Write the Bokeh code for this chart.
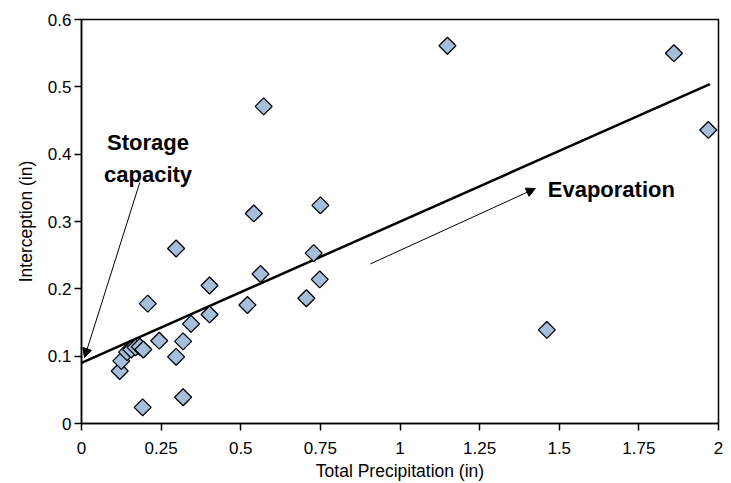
import numpy as np
from bokeh.plotting import figure
from bokeh.models import FixedTicker, Arrow, NormalHead, ColumnDataSource, Range1d
from bokeh.core.properties import value
from bokeh.embed import file_html
from bokeh.resources import INLINE

# ---- data ----
precip = [1.149, 1.860, 1.968, 0.572, 0.541, 0.750, 0.729, 0.748, 0.706, 0.562,
          0.521, 0.297, 0.402, 0.208, 0.402, 0.344, 0.244, 0.319, 0.297, 0.319,
          0.192, 0.120, 0.125, 0.143, 0.156, 0.170, 0.183, 0.194, 1.461]
intercept = [0.561, 0.550, 0.436, 0.471, 0.312, 0.324, 0.253, 0.214, 0.186, 0.222,
             0.176, 0.260, 0.205, 0.178, 0.162, 0.148, 0.123, 0.122, 0.099, 0.039,
             0.024, 0.078, 0.093, 0.106, 0.110, 0.113, 0.114, 0.110, 0.139]
trend_x = [0.0, 1.973]
trend_y = [0.090, 0.504]

x_ticks = [0, 0.25, 0.5, 0.75, 1, 1.25, 1.5, 1.75, 2]
x_tick_labels = ["0", "0.25", "0.5", "0.75", "1", "1.25", "1.5", "1.75", "2"]
y_ticks = [0, 0.1, 0.2, 0.3, 0.4, 0.5, 0.6]
y_tick_labels = ["0", "0.1", "0.2", "0.3", "0.4", "0.5", "0.6"]

FONT = "Liberation Sans"

p = figure(width=731, height=483, output_backend="svg", toolbar_location=None,
           x_range=Range1d(0, 2), y_range=Range1d(0, 0.6),
           min_border_left=81, min_border_top=19, min_border_right=13,
           min_border_bottom=60)

p.xgrid.visible = False
p.ygrid.visible = False
p.outline_line_color = "black"
p.outline_line_width = 1.5
p.outline_line_alpha = 1.0
p.background_fill_color = "white"
p.border_fill_color = "white"

# axes
for ax in (p.xaxis[0], p.yaxis[0]):
    ax.axis_line_color = "black"
    ax.axis_line_width = 1.5
    ax.major_tick_line_color = "black"
    ax.major_tick_line_width = 1.5
    ax.major_tick_in = 0
    ax.major_tick_out = 7
    ax.minor_tick_line_color = None
    ax.major_label_text_font = FONT
    ax.major_label_text_font_size = "17px"
    ax.major_label_text_color = "black"
    ax.axis_label_text_font = FONT
    ax.axis_label_text_font_size = "17.5px"
    ax.axis_label_text_font_style = "normal"
    ax.axis_label_text_color = "black"

p.xaxis[0].ticker = FixedTicker(ticks=x_ticks)
p.xaxis[0].major_label_overrides = dict(zip(x_ticks, x_tick_labels))
p.yaxis[0].ticker = FixedTicker(ticks=y_ticks)
p.yaxis[0].major_label_overrides = dict(zip(y_ticks, y_tick_labels))
p.xaxis[0].axis_label = "Total Precipitation (in)"
p.yaxis[0].axis_label = "Interception (in)"
p.xaxis[0].major_label_standoff = 11
p.xaxis[0].axis_label_standoff = 4
p.yaxis[0].major_label_standoff = 3
p.yaxis[0].axis_label_standoff = 9

# trend line
p.line(trend_x, trend_y, line_color="black", line_width=2.5)

# scatter points
src = ColumnDataSource(dict(x=precip, y=intercept))
p.scatter("x", "y", source=src, marker="square", size=12, angle=np.pi / 4,
          fill_color="#a4bedc", line_color="black", line_width=1.3)

# annotations
p.add_layout(Arrow(end=NormalHead(size=9, fill_color="black", line_color="black", line_width=1),
                   x_start=0.183, y_start=0.358, x_end=0.0094, y_end=0.098,
                   line_color="black", line_width=1))
p.add_layout(Arrow(end=NormalHead(size=9, fill_color="black", line_color="black", line_width=1),
                   x_start=0.907, y_start=0.237, x_end=1.425, y_end=0.349,
                   line_color="black", line_width=1))

p.text(x=[0.209, 0.209], y=[0.418, 0.370], text=["Storage", "capacity"],
       text_font=value(FONT), text_font_size="22px", text_font_style="bold",
       text_align="center", text_baseline="alphabetic", text_color="black")
p.text(x=[1.464], y=[0.347], text=["Evaporation"],
       text_font=value(FONT), text_font_size="22px", text_font_style="bold",
       text_align="left", text_baseline="alphabetic", text_color="black")

open("out.html", "w").write(file_html(p, INLINE))
